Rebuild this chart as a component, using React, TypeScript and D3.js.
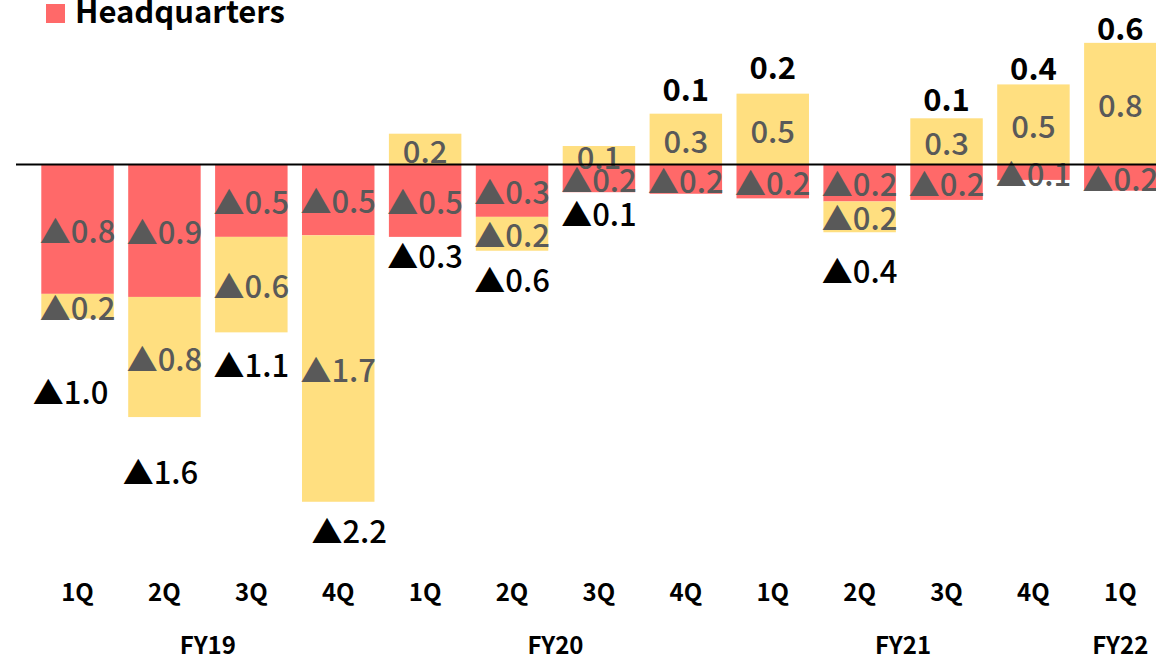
import React from "react";
import * as d3 from "d3";

// quarters along the x axis and the fiscal year each one belongs to
const quarters = ["1Q", "2Q", "3Q", "4Q", "1Q", "2Q", "3Q", "4Q", "1Q", "2Q", "3Q", "4Q", "1Q"];
const fiscalYears = ["FY19", "FY19", "FY19", "FY19", "FY20", "FY20", "FY20", "FY20", "FY21", "FY21", "FY21", "FY21", "FY22"];

// red series (Headquarters) and the yellow series stacked on it
const headquarters = [-0.84, -0.86, -0.47, -0.46, -0.47, -0.34, -0.18, -0.19, -0.22, -0.24, -0.23, -0.1, -0.17];
const otherSegments = [-0.16, -0.78, -0.62, -1.73, 0.2, -0.22, 0.12, 0.33, 0.46, -0.2, 0.3, 0.52, 0.79];

const legendLabel = "Headquarters";

// layout
const W = 1156;
const H = 657;
const zeroY = 164.5;
const pxPerUnit = 154;
const colors = { hq: "#FF6969", other: "#FFDF80" };
const font = "'Noto Sans CJK JP', 'Noto Sans', sans-serif";
// hand placed total labels in the original, small nudges [dx, dy]
const totalLabelNudge = [
    [-7, 44], [-4, 25], [0, 3], [11, 0], [0, -10], [0, 0], [0, -8],
    [0, -6], [0, -8], [0, 9], [0, -1], [0, 2], [0, 4],
];

const fmt = (v: number) => {
    const a = (Math.round(Math.abs(v) * 10) / 10).toFixed(1);
    return v < 0 ? "▲" + a : a;
};

export default function App() {
    const x = d3.scaleBand<number>()
        .domain(quarters.map((_, i) => i))
        .range([41.3, 41.3 + 13 * 86.9 - 86.9 * 0.166])
        .paddingInner(0.166)
        .paddingOuter(0);

    const y = d3.scaleLinear()
        .domain([-2.5, 1])
        .range([zeroY + 2.5 * pxPerUnit, zeroY - pxPerUnit]);

    const table = quarters.map((q, i) => ({ idx: i, hq: headquarters[i], other: otherSegments[i] }));
    const series = d3.stack<any>()
        .keys(["hq", "other"])
        .offset(d3.stackOffsetDiverging)(table);

    const totals = quarters.map((_, i) => {
        const t = headquarters[i] + otherSegments[i];
        const pos = d3.sum([headquarters[i], otherSegments[i]].filter(v => v > 0));
        const neg = d3.sum([headquarters[i], otherSegments[i]].filter(v => v < 0));
        return { i, t, pos, neg };
    });

    const years = Array.from(new Set(fiscalYears)).map(fy => {
        const idx = fiscalYears.map((f, i) => f === fy ? i : -1).filter(i => i >= 0);
        const c0 = x(idx[0])! + x.bandwidth() / 2;
        const c1 = x(idx[idx.length - 1])! + x.bandwidth() / 2;
        return { fy, cx: (c0 + c1) / 2 };
    });

    return (
        <svg width={W} height={H} style={{ position: "absolute", left: 0, top: 0, display: "block", fontFamily: font }}>
            <rect width={W} height={H} fill="white" />

            {/* legend */}
            <rect x={46} y={4} width={19} height={19} fill={colors.hq} />
            <text x={75} y={23} fontSize={31} fontWeight="bold" fill="#000">{legendLabel}</text>

            {/* bars */}
            {series.map(s =>
                <g key={s.key} fill={colors[s.key as "hq" | "other"]}>
                    {s.map((d, i) =>
                        <rect key={i} x={x(i)} width={x.bandwidth()}
                            y={y(Math.max(d[0], d[1]))}
                            height={Math.abs(y(d[0]) - y(d[1]))} />
                    )}
                </g>
            )}

            {/* segment labels */}
            {series.map(s =>
                <g key={"l" + s.key}>
                    {s.map((d, i) => {
                        const v = s.key === "hq" ? headquarters[i] : otherSegments[i];
                        return <text key={i} x={x(i)! + x.bandwidth() / 2} y={y((d[0] + d[1]) / 2)}
                            textAnchor="middle" dominantBaseline="central"
                            fontSize={31} fontWeight={500} fill="#595959">{fmt(v)}</text>
                    })}
                </g>
            )}

            {/* totals */}
            {totals.map(d => {
                const cx = x(d.i)! + x.bandwidth() / 2 + totalLabelNudge[d.i][0];
                const cy = (d.t < 0 ? y(d.neg) + 28 : y(d.pos) - 20) + totalLabelNudge[d.i][1];
                return <text key={"t" + d.i} x={cx} y={cy} textAnchor="middle" dominantBaseline="central"
                    fontSize={31} fontWeight={d.t < 0 ? 500 : "bold"} fill="#000">{fmt(d.t)}</text>
            })}

            {/* zero line */}
            <line x1={16} x2={W} y1={y(0)} y2={y(0)} stroke="#000" strokeWidth={2} />

            {/* axis labels */}
            {quarters.map((q, i) =>
                <text key={"q" + i} x={x(i)! + x.bandwidth() / 2} y={590} textAnchor="middle"
                    dominantBaseline="central" fontSize={24} fontWeight="bold">{q}</text>
            )}
            {years.map(d =>
                <text key={d.fy} x={d.cx} y={643} textAnchor="middle"
                    dominantBaseline="central" fontSize={24} fontWeight="bold">{d.fy}</text>
            )}
        </svg>
    );
}
